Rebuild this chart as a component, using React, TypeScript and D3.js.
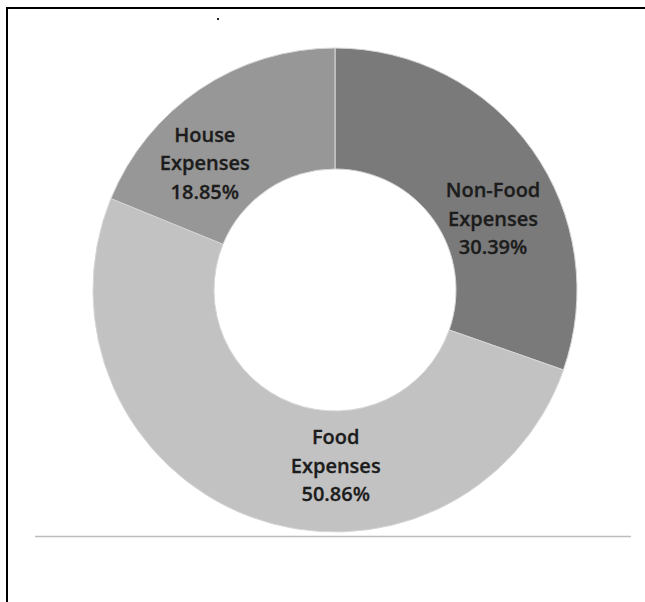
import React from "react";
import * as d3 from "d3";

const categories = ["Non-Food Expenses", "Food Expenses", "House Expenses"];
const labelLines = [["Non-Food", "Expenses"], ["Food", "Expenses"], ["House", "Expenses"]];
const values = [30.39, 50.86, 18.85];
const colors = ["#7a7a7a", "#c2c2c2", "#979797"];

// layout: label nudges from the arc centroid (px)
const labelNudge: [number, number][] = [[10, 34], [65, 6], [-29, 24]];

const W = 645;
const H = 602;
const cx = 335;
const cy = 290;
const outerR = 242;
const innerR = 121;

export default function App() {
  const data = categories.map((c, i) => ({ c, v: values[i], lines: labelLines[i], color: colors[i], i }));
  const pie = d3.pie<any>().value((d: any) => d.v).sort(null);
  const arcs = pie(data);
  const arcGen = d3.arc<any>().innerRadius(innerR).outerRadius(outerR);
  const lineH = 28.5;

  return (
    <svg
      width={W}
      height={H}
      style={{ position: "absolute", left: 0, top: 0, background: "#fff" }}
      fontFamily="'Open Sans', sans-serif"
    >
      <rect x={0} y={0} width={W} height={H} fill="#fff" />
      <line x1={6} y1={8} x2={W} y2={8} stroke="#000" strokeWidth={2} />
      <line x1={7} y1={7} x2={7} y2={H} stroke="#000" strokeWidth={2} />
      <rect x={217} y={18} width={2} height={2} fill="#222" />
      <g transform={`translate(${cx},${cy})`}>
        {arcs.map((a, i) => (
          <path key={i} d={arcGen(a) || ""} fill={a.data.color} stroke="#d6d6d6" strokeWidth={1} />
        ))}
        {arcs.map((a, i) => {
          const [x0, y0] = arcGen.centroid(a);
          const x = x0 + labelNudge[a.data.i][0];
          const y = y0 + labelNudge[a.data.i][1];
          const lines = [...a.data.lines, `${a.data.v.toFixed(2)}%`];
          return (
            <text
              key={"t" + i}
              x={x}
              y={y}
              textAnchor="middle"
              fontSize={20}
              fontWeight={600}
              fill="#1c1c1c"
              stroke="#1c1c1c"
              strokeWidth={0.3}
            >
              {lines.map((l, j) => (
                <tspan key={j} x={x} y={y + (j - 1) * lineH + 7}>
                  {l}
                </tspan>
              ))}
            </text>
          );
        })}
      </g>
      <line x1={35} y1={536.5} x2={631} y2={536.5} stroke="#bcbcbc" strokeWidth={1.5} />
    </svg>
  );
}
